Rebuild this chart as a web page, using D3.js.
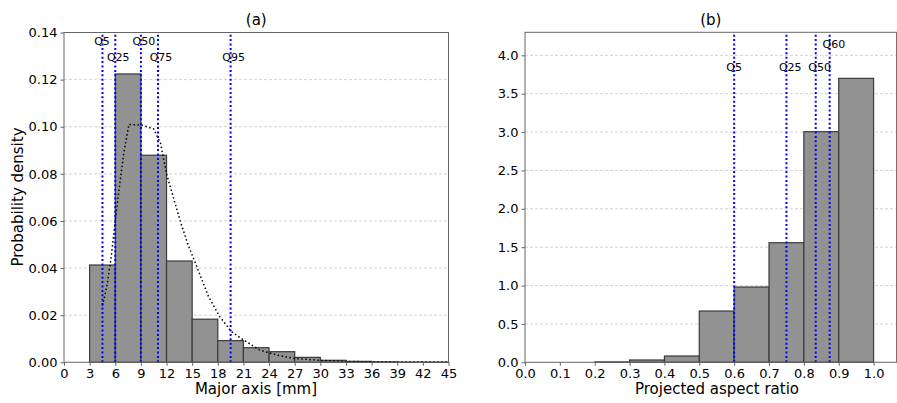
<!DOCTYPE html>
<html>
<head>
<meta charset="utf-8">
<script src="https://cdn.jsdelivr.net/npm/d3@7"></script>
<style>
  body { margin: 0; background: #fff; }
  svg { display: block; font-family: 'DejaVu Sans', sans-serif; }
</style>
</head>
<body>
<svg id="chart" width="897" height="403"></svg>
<script>
// Panel (a): major axis histogram, bins of 3 mm
const majorBins = [3, 6, 9, 12, 15, 18, 21, 24, 27, 30, 33, 36, 39, 42];
const majorDensity = [0.0413, 0.1224, 0.0879, 0.0430, 0.0183, 0.0092, 0.0062,
  0.0045, 0.0021, 0.00085, 0.0004, 0.0002, 0.0001, 0.0001];
// fitted density curve (x mm, density)
const majorCurveX = [4.5, 5.0, 5.5, 6.0, 6.5, 7.0, 7.6, 9.2, 10.5, 11.3, 12.0, 12.8,
  13.6, 14.5, 15.5, 16.9, 18.2, 19.6, 21.0, 22.9, 24.9, 26.8, 30, 33, 36, 40, 45];
const majorCurveY = [0.024, 0.032, 0.044, 0.060, 0.075, 0.089, 0.101, 0.1006, 0.099,
  0.093, 0.080, 0.070, 0.060, 0.050, 0.041, 0.028, 0.0195, 0.013, 0.0095, 0.0052,
  0.0031, 0.0017, 0.0008, 0.0004, 0.0002, 0.0001, 0.0001];
const majorQNames = ['Q5', 'Q25', 'Q50', 'Q75', 'Q95'];
const majorQValues = [4.5, 6.0, 9.0, 11.0, 19.5];
const majorQLabelX = [4.45, 6.35, 9.35, 11.35, 19.85];
const majorQLabelY = [0.1365, 0.1295, 0.1365, 0.1295, 0.1295];
const majorXTicks = d3.range(0, 46, 3);
const majorYTicks = d3.range(0, 0.141, 0.02);

// Panel (b): projected aspect ratio histogram, bins of 0.1
const aspectBins = [0.0, 0.1, 0.2, 0.3, 0.4, 0.5, 0.6, 0.7, 0.8, 0.9];
const aspectDensity = [0, 0, 0.005, 0.03, 0.082, 0.668, 0.981, 1.558, 3.005, 3.70];
const aspectQNames = ['Q5', 'Q25', 'Q50', 'Q60'];
const aspectQValues = [0.600, 0.750, 0.834, 0.874];
const aspectQLabelX = [0.600, 0.761, 0.845, 0.886];
const aspectQLabelY = [3.85, 3.85, 3.85, 4.15];
const aspectXTicks = d3.range(0, 1.01, 0.1);
const aspectYTicks = d3.range(0, 4.01, 0.5);

const svg = d3.select('#chart');
const spineColor = '#666';

function panel(opts) {
  const x = d3.scaleLinear().domain(opts.xDomain).range(opts.xRange);
  const y = d3.scaleLinear().domain(opts.yDomain).range([362.3, opts.top]);
  const g = svg.append('g');

  // grid
  g.append('g').selectAll('line').data(opts.yTicks.slice(1)).join('line')
    .attr('x1', opts.xRange[0]).attr('x2', opts.xRange[1])
    .attr('y1', d => y(d)).attr('y2', d => y(d))
    .attr('stroke', '#c8c8c8').attr('stroke-width', 0.8)
    .attr('stroke-dasharray', '3,2');

  // bars
  g.append('g').selectAll('rect').data(opts.bins).join('rect')
    .attr('x', (d) => x(d))
    .attr('width', d => x(d + opts.binWidth) - x(d))
    .attr('y', (d, i) => y(opts.values[i]))
    .attr('height', (d, i) => y(0) - y(opts.values[i]))
    .attr('fill', '#929292')
    .attr('stroke', '#3a3a3a')
    .attr('stroke-width', 1.2);

  if (opts.curveX) {
    const line = d3.line().x((d, i) => x(opts.curveX[i])).y(d => y(d));
    g.append('path').datum(opts.curveY)
      .attr('d', line)
      .attr('fill', 'none')
      .attr('stroke', '#000')
      .attr('stroke-width', 1.5)
      .attr('stroke-dasharray', '1.5,2.5');
  }

  // quantile lines
  g.append('g').selectAll('line').data(opts.qValues).join('line')
    .attr('x1', d => x(d)).attr('x2', d => x(d))
    .attr('y1', y(0)).attr('y2', opts.top)
    .attr('stroke', 'blue').attr('stroke-width', 2)
    .attr('stroke-dasharray', '2,2.4');

  g.append('g').selectAll('text').data(opts.qNames).join('text')
    .attr('x', (d, i) => x(opts.qLabelX[i]))
    .attr('y', (d, i) => y(opts.qLabelY[i]) + 4)
    .attr('text-anchor', 'middle')
    .attr('font-size', 11)
    .attr('fill', '#000')
    .text(d => d);

  // spines
  g.append('rect')
    .attr('x', opts.xRange[0]).attr('y', opts.top)
    .attr('width', opts.xRange[1] - opts.xRange[0])
    .attr('height', 362.3 - opts.top)
    .attr('fill', 'none').attr('stroke', spineColor).attr('stroke-width', 1);

  // axes
  const xAxis = g.append('g').attr('transform', 'translate(0,362.3)')
    .call(d3.axisBottom(x).tickValues(opts.xTicks).tickFormat(opts.xFormat)
      .tickSizeInner(3.5).tickSizeOuter(0).tickPadding(2.5));
  const yAxis = g.append('g').attr('transform', `translate(${opts.xRange[0]},0)`)
    .call(d3.axisLeft(y).tickValues(opts.yTicks).tickFormat(opts.yFormat)
      .tickSizeInner(3.5).tickSizeOuter(0).tickPadding(3));
  [xAxis, yAxis].forEach(a => {
    a.select('.domain').remove();
    a.selectAll('line').attr('stroke', spineColor);
    a.selectAll('text').attr('font-size', 13).attr('fill', '#000')
      .attr('font-family', "'DejaVu Sans', sans-serif");
  });

  svg.append('text')
    .attr('x', (opts.xRange[0] + Math.min(opts.xRange[1], 897)) / 2)
    .attr('y', 25).attr('text-anchor', 'middle').attr('font-size', 15)
    .text(opts.title);
  svg.append('text')
    .attr('x', opts.xLabelX)
    .attr('y', 394).attr('text-anchor', 'middle').attr('font-size', 15)
    .text(opts.xLabel);
  if (opts.yLabel) {
    svg.append('text')
      .attr('transform', 'translate(23,197) rotate(-90)')
      .attr('text-anchor', 'middle').attr('font-size', 15)
      .text(opts.yLabel);
  }
}

panel({
  xDomain: [0, 45], xRange: [64, 448.5], yDomain: [0, 0.14], top: 32.5,
  bins: majorBins, binWidth: 3, values: majorDensity,
  curveX: majorCurveX, curveY: majorCurveY,
  qNames: majorQNames, qValues: majorQValues, qLabelX: majorQLabelX, qLabelY: majorQLabelY,
  xTicks: majorXTicks, yTicks: majorYTicks,
  xFormat: d3.format('d'), yFormat: d3.format('.2f'),
  title: '(a)', xLabel: 'Major axis [mm]', xLabelX: 256, yLabel: 'Probability density'
});

panel({
  xDomain: [0, 1.066], xRange: [525, 896.6], yDomain: [0, 4.3], top: 32.3,
  bins: aspectBins, binWidth: 0.1, values: aspectDensity,
  qNames: aspectQNames, qValues: aspectQValues, qLabelX: aspectQLabelX, qLabelY: aspectQLabelY,
  xTicks: aspectXTicks, yTicks: aspectYTicks,
  xFormat: d3.format('.1f'), yFormat: d3.format('.1f'),
  title: '(b)', xLabel: 'Projected aspect ratio', xLabelX: 717
});
</script>
</body>
</html>
